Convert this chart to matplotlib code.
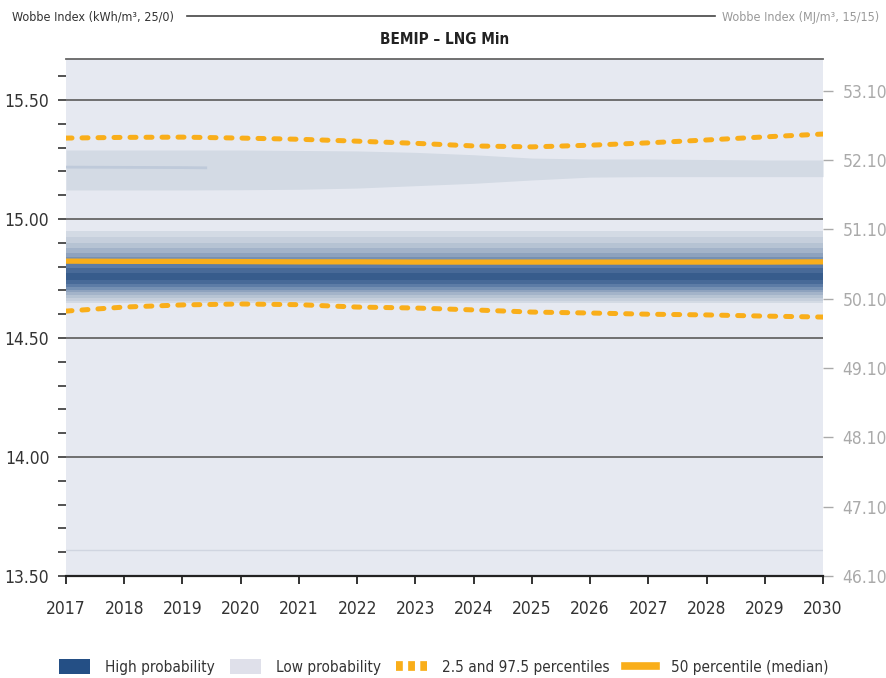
import matplotlib.pyplot as plt
import numpy as np
from matplotlib.patches import Patch
from matplotlib.lines import Line2D
from matplotlib.ticker import MultipleLocator, FixedLocator

plt.rcParams["font.family"] = ["DejaVu Sans"]
plt.rcParams["font.stretch"] = "condensed"

years = list(range(2017, 2031))

# percentiles (kWh/m3)
median = [14.823, 14.822, 14.822, 14.821, 14.820, 14.820, 14.819,
          14.819, 14.819, 14.819, 14.819, 14.819, 14.819, 14.820]
p025 = [14.613, 14.630, 14.639, 14.643, 14.640, 14.630, 14.626,
        14.618, 14.609, 14.605, 14.600, 14.597, 14.592, 14.588]
p975 = [15.340, 15.343, 15.344, 15.340, 15.335, 15.327, 15.318,
        15.307, 15.303, 15.310, 15.320, 15.332, 15.345, 15.357]

# secondary low probability cluster
low_top = [15.290, 15.290, 15.290, 15.290, 15.288, 15.286, 15.280,
           15.270, 15.256, 15.252, 15.252, 15.250, 15.248, 15.248]
low_bottom = [15.122, 15.122, 15.122, 15.123, 15.125, 15.130, 15.140,
              15.150, 15.164, 15.176, 15.178, 15.178, 15.178, 15.178]
streak_years = [2017, 2018, 2019, 2019.4]
streak_level = [15.218, 15.217, 15.216, 15.215]

# main cluster, nested shades from outer to inner
band_lower = [14.645, 14.655, 14.668, 14.680, 14.692, 14.703, 14.715, 14.728, 14.742]
band_upper = [14.950, 14.925, 14.900, 14.878, 14.858, 14.840, 14.815, 14.795, 14.772]
band_colors = ["#d3dae4", "#c6cfdc", "#b6c3d3", "#a3b3c9", "#8ea2be",
               "#7590b3", "#5d7ca6", "#486a98", "#375c8c"]

yticks_right = [46.10, 47.10, 48.10, 49.10, 50.10, 51.10, 52.10, 53.10]

orange = "#f9ae1a"
bg = "#e6e9f1"


def to_mj(v):
    return 46.10 + (v - 13.50) * 3.434


def to_kwh(v):
    return 13.50 + (v - 46.10) / 3.434


fig = plt.figure(figsize=(8.87, 6.78), dpi=100)
ax = fig.add_axes([66 / 887, 1 - 576 / 678, (823 - 66) / 887, (576 - 59) / 678])
ax.set_facecolor(bg)

ax.fill_between(years, low_bottom, low_top, color="#d3dae4", lw=0, zorder=1)
ax.plot(streak_years, streak_level, color="#bfcada", lw=2, zorder=1.5)

for lo, hi, c in zip(band_lower, band_upper, band_colors):
    ax.fill_between(years, [lo] * len(years), [hi] * len(years),
                    color=c, lw=0, zorder=2)

for v in [14.0, 14.5, 15.0, 15.5]:
    ax.axhline(v, color="#666666", lw=1.3, zorder=3)
ax.axhline(13.61, color="#d0d5e0", lw=1, zorder=3)

ax.plot(years, median, color=orange, lw=3.8, solid_capstyle="butt", zorder=5)
for p in (p025, p975):
    ax.plot(years, p, color=orange, lw=3.6, linestyle=(0, (1.2, 2.0)),
            dash_capstyle="round", zorder=5)

ax.set_xlim(2017, 2030)
ax.set_ylim(13.5, 15.5 + 41 / 238)
ax.set_xticks(years)
ax.set_xticklabels([str(y) for y in years])
ax.yaxis.set_major_locator(FixedLocator([13.5, 14.0, 14.5, 15.0, 15.5]))
ax.yaxis.set_major_formatter(plt.FuncFormatter(lambda v, _: f"{v:.2f}"))
ax.yaxis.set_minor_locator(MultipleLocator(0.1))

for s in ("left", "right"):
    ax.spines[s].set_visible(False)
ax.spines["top"].set_color("#666666")
ax.spines["top"].set_linewidth(1.3)
ax.spines["bottom"].set_color("#222222")
ax.spines["bottom"].set_linewidth(1.6)

ax.tick_params(axis="y", which="both", length=6, width=1.3, color="#444444",
               labelsize=12.5, labelcolor="#333333", pad=6)
ax.tick_params(axis="x", length=6, width=1.3, color="#222222",
               labelsize=12.5, labelcolor="#333333", pad=11)

sec = ax.secondary_yaxis("right", functions=(to_mj, to_kwh))
sec.set_yticks(yticks_right)
sec.yaxis.set_major_formatter(plt.FuncFormatter(lambda v, _: f"{v:.2f}"))
sec.spines["right"].set_visible(False)
sec.tick_params(axis="y", length=7, width=1, color="#aaaaaa",
                labelsize=12.5, labelcolor="#aaaaaa", pad=7)

# header row
fig.text(12 / 887, 1 - 17 / 678, "Wobbe Index (kWh/m³, 25/0)", fontsize=9,
         color="#333333", va="center", ha="left")
fig.text(879 / 887, 1 - 17 / 678, "Wobbe Index (MJ/m³, 15/15)", fontsize=9,
         color="#999999", va="center", ha="right")
fig.add_artist(Line2D([187 / 887, 715 / 887], [1 - 16 / 678, 1 - 16 / 678],
                      color="#444444", lw=1.2))
fig.text(444.5 / 887, 1 - 40 / 678, "BEMIP – LNG Min", fontsize=11,
         fontweight="bold", color="#222222", va="center", ha="center")

handles = [
    Patch(facecolor="#244f85", edgecolor="none"),
    Patch(facecolor="#dfe0ea", edgecolor="none"),
    Line2D([], [], color=orange, lw=7, linestyle=(0, (0.7, 0.55))),
    Line2D([], [], color=orange, lw=5.5),
]
labels = ["High probability", "Low probability",
          "2.5 and 97.5 percentiles", "50 percentile (median)"]
fig.legend(handles, labels, loc="center", ncol=4, frameon=False,
           bbox_to_anchor=(444 / 887, 1 - 667 / 678), fontsize=11,
           handlelength=2.0, handleheight=1.1, handletextpad=1.0,
           columnspacing=1.0, labelcolor="#333333")

fig.savefig("out.png", dpi=100)
